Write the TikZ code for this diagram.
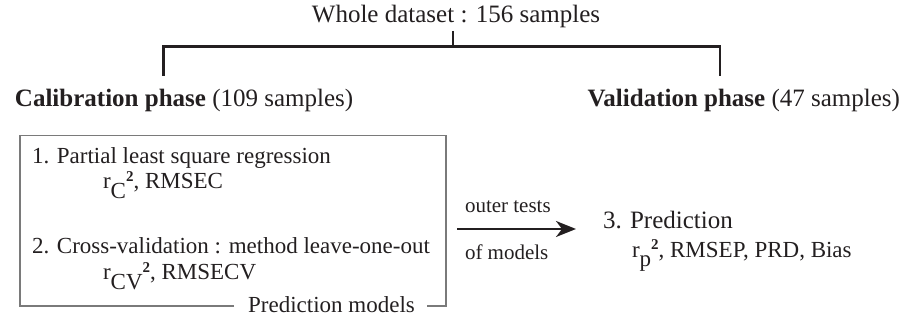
\documentclass[tikz,border=0pt]{standalone}
\usepackage{fontspec}
\setmainfont{Liberation Serif}
\usetikzlibrary{arrows.meta}
\definecolor{ink}{HTML}{231F20}
\definecolor{framegray}{HTML}{7A7A7A}
\newcommand{\lowsub}[1]{\raisebox{-0.4em}{#1}}
\newcommand{\sqmark}{\raisebox{0.34em}{\fontsize{15}{15}\selectfont\textbf{2}}}
\begin{document}
\begin{tikzpicture}[x=1pt,y=-1pt,
  every node/.style={inner sep=0pt, outer sep=0pt, text=ink},
  big/.style={font=\fontsize{25}{30}\selectfont},
  mid/.style={font=\fontsize{23}{28}\selectfont},
  small/.style={font=\fontsize{21}{25}\selectfont},
  bracket/.style={draw=ink, line width=2.2pt},
  frame/.style={draw=framegray, line width=1.4pt},
  flow/.style={draw=ink, line width=2.2pt, -{Stealth[length=20pt,width=16pt,inset=6pt]}}]
\useasboundingbox (0,0) rectangle (903,320);

% top and split
\node[big, anchor=base] (whole) at (456,23) {Whole dataset : 156 samples};
\coordinate (stem) at (453,31);
\coordinate (fork) at (453,46.5);
\coordinate (lefttop) at (163.5,46.5);
\coordinate (leftend) at (163.5,76);
\coordinate (righttop) at (720,46.5);
\coordinate (rightend) at (720,76);
\draw[bracket] (stem) -- (fork);
\draw[bracket] (leftend) -- (lefttop) -- (righttop) -- (rightend);

\node[big, anchor=base west] (calib) at (15,107) {\textbf{Calibration phase} (109 samples)};
\node[big, anchor=base east] (valid) at (900,107) {\textbf{Validation phase} (47 samples)};

% calibration frame
\coordinate (boxNW) at (20,135.5);
\coordinate (boxNE) at (446,135.5);
\coordinate (boxSE) at (446,306);
\coordinate (boxSW) at (20,306);
\coordinate (gapL) at (234,306);
\coordinate (gapR) at (427,306);
\draw[frame] (gapL) -- (boxSW) -- (boxNW) -- (boxNE) -- (boxSE) -- (gapR);

\node[mid, anchor=base west] (pls) at (32,164) {1. Partial least square regression};
\node[mid, anchor=base west] (plsm) at (103,189) {r\lowsub{C}\sqmark, RMSEC};
\node[mid, anchor=base west] (cv) at (32,254) {2. Cross-validation : method leave-one-out};
\node[mid, anchor=base west] (cvm) at (103,280) {r\lowsub{CV}\sqmark, RMSECV};
\node[mid, anchor=base] (models) at (331.5,313) {Prediction models};

% arrow
\coordinate (arrS) at (457,229);
\coordinate (arrE) at (576,229);
\draw[flow] (arrS) -- (arrE);
\node[small, anchor=base west] (outer) at (465,213) {outer tests};
\node[small, anchor=base west] (ofm) at (465,260) {of models};

% prediction
\node[big, anchor=base west] (pred) at (603,229) {3. Prediction};
\node[mid, anchor=base west] (predm) at (632,257.5) {r\lowsub{p}\sqmark, RMSEP, PRD, Bias};
\end{tikzpicture}
\end{document}
